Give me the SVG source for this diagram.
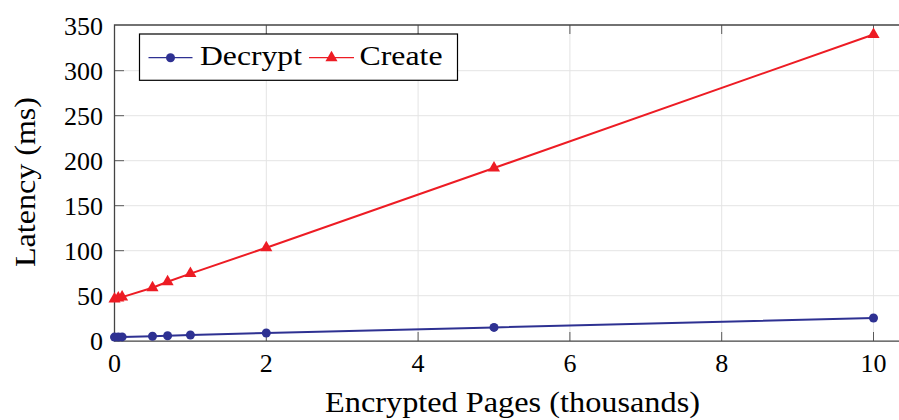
<svg xmlns="http://www.w3.org/2000/svg" width="899" height="420" viewBox="0 0 899 420">
  <style>
    .grid line { stroke: #e4e4e4; stroke-width: 1; }
    .ticks line { stroke: #5a5a5a; stroke-width: 1; }
    .axis { stroke: #444; stroke-width: 1.3; fill: none; }
    .blue { stroke: #2e3192; fill: none; stroke-width: 2; stroke-linejoin: round; }
    .red { stroke: #ed1c24; fill: none; stroke-width: 2; stroke-linejoin: round; }
    .bm { fill: #2e3192; }
    .rm { fill: #ed1c24; }
  </style>
  <defs>
    <circle id="dot" r="4.5"/>
    <path id="tri" d="M0,-7 L6.06,3.5 L-6.06,3.5 Z"/>
  </defs>

  <rect width="899" height="420" fill="#fff"/>

  <!-- grid -->
  <g class="grid">
    <line x1="266.3" y1="25" x2="266.3" y2="341"/>
    <line x1="418.1" y1="25" x2="418.1" y2="341"/>
    <line x1="569.9" y1="25" x2="569.9" y2="341"/>
    <line x1="721.7" y1="25" x2="721.7" y2="341"/>
    <line x1="873.5" y1="25" x2="873.5" y2="341"/>
    <line x1="114.5" y1="295.7" x2="899" y2="295.7"/>
    <line x1="114.5" y1="250.7" x2="899" y2="250.7"/>
    <line x1="114.5" y1="205.7" x2="899" y2="205.7"/>
    <line x1="114.5" y1="160.7" x2="899" y2="160.7"/>
    <line x1="114.5" y1="115.7" x2="899" y2="115.7"/>
    <line x1="114.5" y1="70.7" x2="899" y2="70.7"/>
  </g>

  <!-- tick marks -->
  <g class="ticks">
    <line x1="266.3" y1="341" x2="266.3" y2="332"/>
    <line x1="418.1" y1="341" x2="418.1" y2="332"/>
    <line x1="569.9" y1="341" x2="569.9" y2="332"/>
    <line x1="721.7" y1="341" x2="721.7" y2="332"/>
    <line x1="873.5" y1="341" x2="873.5" y2="332"/>
    <line x1="266.3" y1="25" x2="266.3" y2="34"/>
    <line x1="418.1" y1="25" x2="418.1" y2="34"/>
    <line x1="569.9" y1="25" x2="569.9" y2="34"/>
    <line x1="721.7" y1="25" x2="721.7" y2="34"/>
    <line x1="873.5" y1="25" x2="873.5" y2="34"/>
    <line x1="114.5" y1="295.7" x2="124" y2="295.7"/>
    <line x1="114.5" y1="250.7" x2="124" y2="250.7"/>
    <line x1="114.5" y1="205.7" x2="124" y2="205.7"/>
    <line x1="114.5" y1="160.7" x2="124" y2="160.7"/>
    <line x1="114.5" y1="115.7" x2="124" y2="115.7"/>
    <line x1="114.5" y1="70.7" x2="124" y2="70.7"/>
  </g>

  <!-- axis frame -->
  <path class="axis" d="M900,25 H114.5 V341.2 H900"/>

  <!-- y tick labels -->
  <text x="103" y="350" font-family="Liberation Serif, serif" font-size="26" text-anchor="end" fill="#000">0</text>
  <text x="103" y="305" font-family="Liberation Serif, serif" font-size="26" text-anchor="end" fill="#000">50</text>
  <text x="103" y="260" font-family="Liberation Serif, serif" font-size="26" text-anchor="end" fill="#000">100</text>
  <text x="103" y="215" font-family="Liberation Serif, serif" font-size="26" text-anchor="end" fill="#000">150</text>
  <text x="103" y="170" font-family="Liberation Serif, serif" font-size="26" text-anchor="end" fill="#000">200</text>
  <text x="103" y="125" font-family="Liberation Serif, serif" font-size="26" text-anchor="end" fill="#000">250</text>
  <text x="103" y="80" font-family="Liberation Serif, serif" font-size="26" text-anchor="end" fill="#000">300</text>
  <text x="103" y="35" font-family="Liberation Serif, serif" font-size="26" text-anchor="end" fill="#000">350</text>

  <!-- x tick labels -->
  <text x="114.5" y="371.5" font-family="Liberation Serif, serif" font-size="26" text-anchor="middle" fill="#000">0</text>
  <text x="266.3" y="371.5" font-family="Liberation Serif, serif" font-size="26" text-anchor="middle" fill="#000">2</text>
  <text x="418.1" y="371.5" font-family="Liberation Serif, serif" font-size="26" text-anchor="middle" fill="#000">4</text>
  <text x="569.9" y="371.5" font-family="Liberation Serif, serif" font-size="26" text-anchor="middle" fill="#000">6</text>
  <text x="721.7" y="371.5" font-family="Liberation Serif, serif" font-size="26" text-anchor="middle" fill="#000">8</text>
  <text x="873.5" y="371.5" font-family="Liberation Serif, serif" font-size="26" text-anchor="middle" fill="#000">10</text>

  <!-- axis labels -->
  <text x="325" y="412" font-family="Liberation Serif, serif" font-size="29" fill="#000" textLength="375" lengthAdjust="spacingAndGlyphs">Encrypted Pages (thousands)</text>
  <text transform="translate(34.5,267) rotate(-90)" font-family="Liberation Serif, serif" font-size="29" fill="#000" textLength="170" lengthAdjust="spacingAndGlyphs">Latency (ms)</text>

  <!-- series -->
  <g id="decrypt">
    <polyline class="blue" points="114.5,337.1 118.3,337.1 122.1,336.9 152.5,336.3 167.6,335.8 190.4,335 266.3,333 494,327.4 873.5,318"/>
    <g class="bm">
      <use href="#dot" x="114.5" y="337.1"/>
      <use href="#dot" x="118.3" y="337.1"/>
      <use href="#dot" x="122.1" y="336.9"/>
      <use href="#dot" x="152.5" y="336.3"/>
      <use href="#dot" x="167.6" y="335.8"/>
      <use href="#dot" x="190.4" y="335"/>
      <use href="#dot" x="266.3" y="333"/>
      <use href="#dot" x="494" y="327.4"/>
      <use href="#dot" x="873.5" y="318"/>
    </g>
  </g>
  <g id="create">
    <polyline class="red" points="114.5,298.9 118.3,298 122.1,297.1 152.5,287.7 167.6,281.7 190.4,273.6 266.3,247.7 494,168 873.5,34.5"/>
    <g class="rm">
      <use href="#tri" x="114.5" y="298.9"/>
      <use href="#tri" x="118.3" y="298"/>
      <use href="#tri" x="122.1" y="297.1"/>
      <use href="#tri" x="152.5" y="287.7"/>
      <use href="#tri" x="167.6" y="281.7"/>
      <use href="#tri" x="190.4" y="273.6"/>
      <use href="#tri" x="266.3" y="247.7"/>
      <use href="#tri" x="494" y="168"/>
      <use href="#tri" x="873.5" y="34.5"/>
    </g>
  </g>

  <!-- legend -->
  <g id="legend">
    <rect x="139.5" y="34" width="318" height="46.3" fill="#fff" stroke="#000" stroke-width="1.2"/>
    <line x1="148.5" y1="57.7" x2="192.5" y2="57.7" stroke="#2e3192" stroke-width="1.2"/>
    <use href="#dot" x="170.5" y="57.7" class="bm"/>
    <line x1="309" y1="57.7" x2="354" y2="57.7" stroke="#ed1c24" stroke-width="1.2"/>
    <use href="#tri" x="331.5" y="57.7" class="rm"/>
    <text x="200" y="65" font-family="Liberation Serif, serif" font-size="28" fill="#000" textLength="102" lengthAdjust="spacingAndGlyphs">Decrypt</text>
    <text x="359.5" y="65" font-family="Liberation Serif, serif" font-size="28" fill="#000" textLength="83" lengthAdjust="spacingAndGlyphs">Create</text>
  </g>
</svg>
